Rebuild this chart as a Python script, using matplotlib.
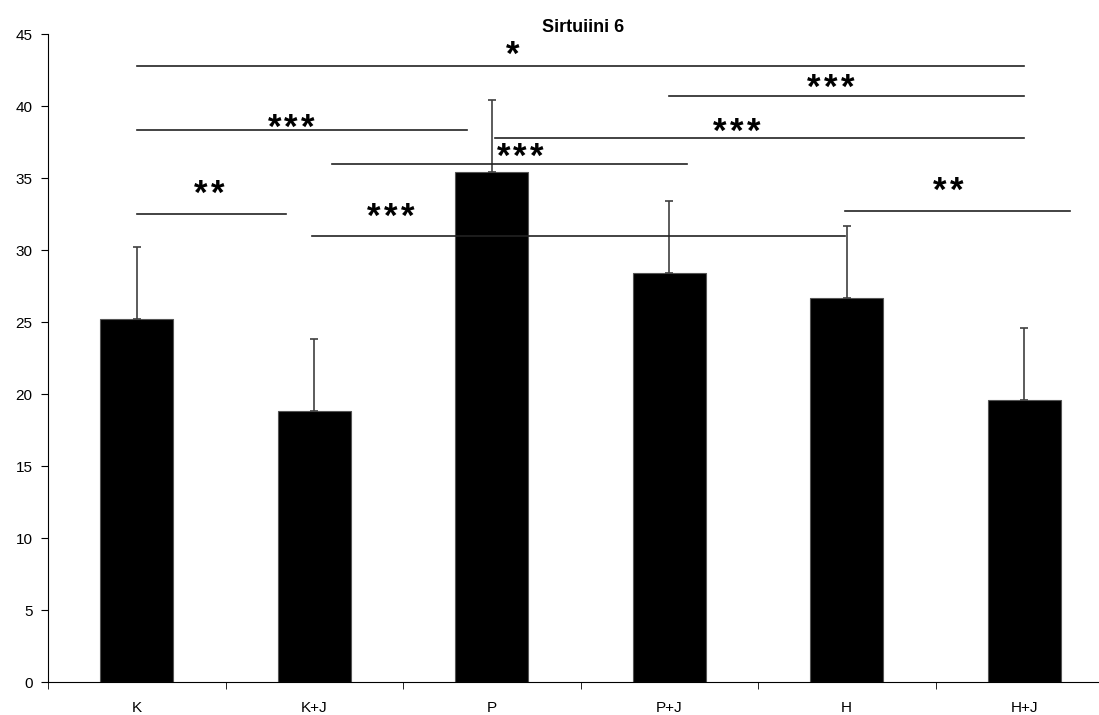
import matplotlib.pyplot as plt
import numpy as np

plt.rcParams['font.family'] = ['Liberation Sans', 'DejaVu Sans']

groups = ['K', 'K+J', 'P', 'P+J', 'H', 'H+J']
means = [25.2, 18.8, 35.4, 28.4, 26.7, 19.6]
sd = [5.0, 5.0, 5.0, 5.0, 5.0, 5.0]

# significance brackets: start, end, height, label and where the label's stars sit
sig_start = [0.0, 0.0, 3.0, 2.02, 1.1, 0.0, 0.99, 3.99]
sig_end = [5.0, 1.86, 5.0, 5.0, 3.1, 0.84, 3.99, 5.26]
sig_y = [42.8, 38.3, 40.7, 37.8, 36.0, 32.5, 31.0, 32.7]
sig_text = ['*', '***', '***', '***', '***', '**', '***', '**']
sig_tx = [2.12, 0.87, 3.91, 3.38, 2.16, 0.41, 1.43, 4.57]
sig_ty = [43.9, 38.8, 41.6, 38.5, 36.8, 34.2, 32.6, 34.4]

fig = plt.figure(figsize=(10.99, 7.15), dpi=100)
ax = fig.add_axes([48 / 1099, 33 / 715, 1065 / 1099, 648 / 715])

x = np.arange(len(groups))
ax.bar(x, means, width=0.41, color='black', edgecolor='#555555', linewidth=0.8, zorder=2)
ax.errorbar(x, means, yerr=[np.zeros(len(sd)), sd], fmt='none', ecolor='#404040',
            elinewidth=1.2, capsize=3.2, capthick=1.2, zorder=3)

star_pitch = 12.2  # points between neighbouring asterisks
for x0, x1, y, t, tx, ty in zip(sig_start, sig_end, sig_y, sig_text, sig_tx, sig_ty):
    ax.plot([x0, x1], [y, y], color='#222222', lw=1.2, zorder=4, clip_on=False)
    n = len(t)
    for i, ch in enumerate(t):
        dx = (i - (n - 1) / 2) * star_pitch
        # asterisks sit high in the glyph box, so shift the baseline down
        ax.annotate(ch, (tx, ty), xytext=(dx, -10.5), textcoords='offset points',
                    ha='center', va='baseline', fontsize=25, fontweight='bold', zorder=5)

ax.set_xlim(-0.5, 5.5)
ax.set_ylim(0, 45)
ax.set_yticks(np.arange(0, 46, 5))
ax.set_xticks(x)
ax.set_xticklabels(groups)
ax.set_xticks(np.arange(-0.5, 6, 1), minor=True)
ax.tick_params(axis='x', which='major', length=0, pad=14, labelsize=11)
ax.tick_params(axis='x', which='minor', length=5, direction='out')
ax.tick_params(axis='y', length=5, direction='out', pad=6, labelsize=11)
for s in ['top', 'right']:
    ax.spines[s].set_visible(False)

fig.text(0.5305, 0.962, 'Sirtuiini 6', ha='center', va='center',
         fontsize=13, fontweight='bold')

fig.savefig('out.png', dpi=100)
